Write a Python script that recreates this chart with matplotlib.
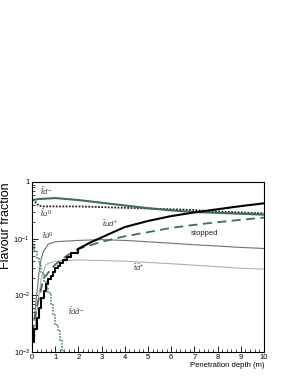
import numpy as np
import matplotlib
matplotlib.use("Agg")
import matplotlib.pyplot as plt
from matplotlib.ticker import MultipleLocator, LogLocator, FixedLocator, NullFormatter

plt.rcParams['font.family'] = ['Liberation Sans', 'DejaVu Sans']
plt.rcParams['mathtext.fontset'] = 'custom'
plt.rcParams['mathtext.rm'] = 'Liberation Sans'
plt.rcParams['mathtext.it'] = 'Liberation Sans:italic'

# anti-stop meson, charged (teal solid)
x_dm = [0, 0.3, 1, 2, 3, 4, 5, 6, 7, 8, 9, 10]
f_dm = [0.48, 0.50, 0.52, 0.48, 0.43, 0.385, 0.345, 0.315, 0.295, 0.285, 0.275, 0.265]
# anti-stop meson, neutral (black dotted)
x_u0 = [0, 0.15, 0.3, 0.5, 1, 2, 3, 4, 5, 6, 7, 8, 9, 10]
f_u0 = [0.48, 0.44, 0.38, 0.37, 0.37, 0.37, 0.36, 0.35, 0.34, 0.33, 0.32, 0.30, 0.29, 0.28]
# stop baryon (black thick), staircase part then smooth part
x_ud = [0, 0.1, 0.2, 0.3, 0.4, 0.5, 0.6, 0.7, 0.8, 0.9, 1.0, 1.1, 1.2, 1.35, 1.5, 1.7, 2.0]
f_ud = [0.0015, 0.0025, 0.004, 0.006, 0.009, 0.012, 0.016, 0.019, 0.022, 0.026, 0.030, 0.033,
        0.037, 0.042, 0.048, 0.055, 0.066]
x_ud2 = [2.0, 2.5, 3, 3.5, 4, 5, 6, 7, 8, 9, 10]
f_ud2 = [0.066, 0.085, 0.105, 0.13, 0.16, 0.205, 0.25, 0.29, 0.33, 0.375, 0.42]
# stopped (teal dashed)
x_st = [0, 0.2, 0.5, 1, 1.5, 2, 3, 4, 5, 6, 7, 8, 9, 10]
f_st = [0.002, 0.006, 0.02, 0.035, 0.05, 0.066, 0.088, 0.11, 0.13, 0.155, 0.175, 0.195, 0.215, 0.235]
# stop meson, neutral (gray thin)
x_u0b = [0.1, 0.2, 0.3, 0.4, 0.5, 0.7, 1, 2, 3, 4, 5, 6, 7, 8, 9, 10]
f_u0b = [0.004, 0.01, 0.025, 0.045, 0.06, 0.08, 0.088, 0.093, 0.096, 0.093, 0.088, 0.083, 0.078, 0.074, 0.07, 0.067]
# stop meson, charged (light gray)
x_dp = [0.1, 0.2, 0.3, 0.4, 0.6, 1, 2, 3, 4, 5, 6, 7, 8, 9, 10]
f_dp = [0.002, 0.005, 0.01, 0.02, 0.035, 0.04, 0.042, 0.041, 0.04, 0.038, 0.036, 0.034, 0.032, 0.030, 0.029]
# anti-stop anti-baryon (teal dotted)
x_ab = [0, 0.1, 0.2, 0.3, 0.4, 0.5, 0.6, 0.7, 0.8, 0.9, 1.0, 1.1, 1.2, 1.3, 1.4]
f_ab = [0.08, 0.06, 0.045, 0.035, 0.025, 0.018, 0.014, 0.011, 0.007, 0.0045, 0.003, 0.0023, 0.0016, 0.0011, 0.0009]

teal = '#3d6b66'

fig = plt.figure(figsize=(2.91, 3.76), dpi=100)
ax = fig.add_axes([0.110, 0.064, 0.797, 0.452])

ax.plot(x_dp, f_dp, color='#b0b0b0', lw=0.8)
ax.plot(x_u0b, f_u0b, color='#707070', lw=0.8)
ax.plot(x_ab, f_ab, color='#5a8a84', lw=1.2, ls=(0, (1, 0.8)), drawstyle='steps-post')
ax.plot(x_st, f_st, color=teal, lw=1.3, ls=(0, (5, 3)))
ax.plot(x_u0, f_u0, color='#222222', lw=1.3, ls=(0, (1, 0.8)))
ax.plot(x_dm, f_dm, color=teal, lw=1.5)
ax.plot(x_ud, f_ud, color='black', lw=1.5, drawstyle='steps-post')
ax.plot(x_ud2, f_ud2, color='black', lw=1.5)

ax.set_xlim(0, 10)
ax.set_yscale('log')
ax.set_ylim(1e-3, 1)

ax.xaxis.set_major_locator(MultipleLocator(1))
ax.xaxis.set_minor_locator(MultipleLocator(0.2))
ax.yaxis.set_major_locator(FixedLocator([1e-3, 1e-2, 1e-1, 1]))
ax.set_yticklabels(['10$^{-3}$', '10$^{-2}$', '10$^{-1}$', '1'])
ax.yaxis.set_minor_locator(LogLocator(base=10, subs=np.arange(2, 10)))
ax.yaxis.set_minor_formatter(NullFormatter())
ax.tick_params(which='both', direction='in', labelsize=5.5, pad=1.5)
ax.tick_params(which='major', length=4, width=0.6)
ax.tick_params(which='minor', length=2, width=0.5)
for s in ax.spines.values():
    s.set_linewidth(0.8)

ax.set_ylabel('Flavour fraction', fontsize=9, loc='top', labelpad=1)
ax.set_xlabel('Penetration depth (m)', fontsize=5.5, loc='right', labelpad=1)

lab = dict(fontsize=5.5, color='#333333')
ax.text(0.35, 0.58, r'$\bar{\tilde{t}}d^{-}$', **lab)
ax.text(0.35, 0.24, r'$\bar{\tilde{t}}u^{0}$', **lab)
ax.text(0.45, 0.095, r'$\tilde{t}\bar{u}^{0}$', **lab)
ax.text(3.0, 0.16, r'$\tilde{t}ud^{+}$', **lab)
ax.text(4.35, 0.027, r'$\tilde{t}\bar{d}^{+}$', **lab)
ax.text(1.55, 0.0045, r'$\bar{\tilde{t}}\bar{u}\bar{d}^{-}$', **lab)
ax.text(6.85, 0.115, 'stopped', fontsize=5.5, color='#222222')

fig.savefig('out.png', dpi=100)
